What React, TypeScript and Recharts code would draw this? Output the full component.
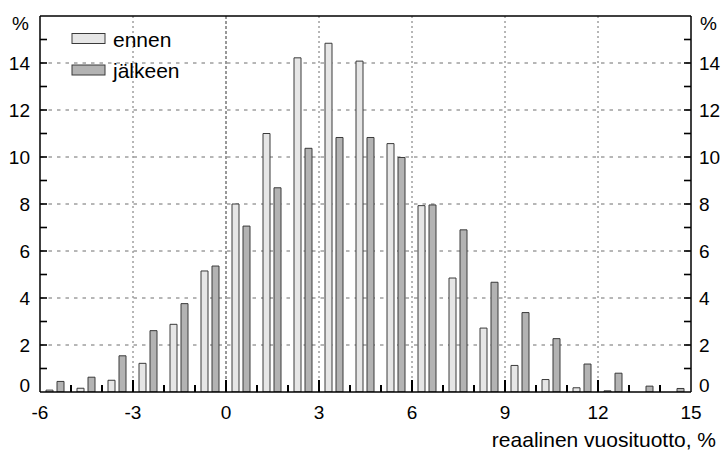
import React from 'react';
import { BarChart, Bar, XAxis, YAxis, CartesianGrid, Legend, Label } from 'recharts';

// bin centres (real annual return, %)
const categories = [-5.5, -4.5, -3.5, -2.5, -1.5, -0.5, 0.5, 1.5, 2.5, 3.5, 4.5, 5.5, 6.5, 7.5, 8.5, 9.5, 10.5, 11.5, 12.5, 13.5, 14.5];
// share of outcomes, %
const ennen = [0.08, 0.16, 0.5, 1.22, 2.88, 5.15, 8.0, 11.0, 14.22, 14.84, 14.08, 10.57, 7.93, 4.85, 2.72, 1.13, 0.53, 0.18, 0.05, 0, 0];
const jalkeen = [0.45, 0.63, 1.54, 2.61, 3.76, 5.36, 7.06, 8.69, 10.37, 10.83, 10.83, 9.98, 7.96, 6.9, 4.67, 3.38, 2.27, 1.19, 0.8, 0.25, 0.15];

const seriesNames = ['ennen', 'jälkeen'];
const xTicks = [-6, -5, -4, -3, -2, -1, 0, 1, 2, 3, 4, 5, 6, 7, 8, 9, 10, 11, 12, 13, 14, 15];
const yTicks = [0, 1, 2, 3, 4, 5, 6, 7, 8, 9, 10, 11, 12, 13, 14, 15, 16];
const hGrid = [2, 4, 6, 8, 10, 12, 14];
const vGrid = [-3, 3, 6, 9, 12];
const zeroLine = [0];
const topLine = [16];
const xTitle = 'reaalinen vuosituotto, %';
const yUnit = '%';

const data = categories.map((c, i) => ({ x: c, ennen: ennen[i], jalkeen: jalkeen[i] }));

const FONT = '"Liberation Sans", Arial, sans-serif';
const LIGHT = '#e6e6e6';
const DARK = '#b3b3b3';
const EDGE = '#3a3a3a';
const TICK_FS = 19;

const BottomTick = (props: any) => {
  const { x, y, payload } = props;
  const v = payload.value;
  const major = v % 3 === 0;
  const edge = v === -6 || v === 15;
  return (
    <g>
      {!edge && (
        <line x1={x} x2={x} y1={y} y2={y - (major ? 12 : 7)} stroke="#000" strokeWidth={2} />
      )}
      {major && (
        <text x={x} y={y + 26.5} textAnchor="middle" fontFamily={FONT} fontSize={TICK_FS} fill="#000">
          {v}
        </text>
      )}
    </g>
  );
};

const LeftTick = (props: any) => {
  const { x, y, payload } = props;
  const v = payload.value;
  const inner = v > 0 && v < 16;
  let label: any = null;
  if (v === 16) {
    label = (
      <text x={x - 11} y={y + 14} textAnchor="end" fontFamily={FONT} fontSize={TICK_FS} fill="#000">
        {yUnit}
      </text>
    );
  } else if (v % 2 === 0) {
    label = (
      <text x={x - 10} y={v === 0 ? y - 0.5 : y + 7.2} textAnchor="end" fontFamily={FONT} fontSize={TICK_FS} fill="#000">
        {v}
      </text>
    );
  }
  return (
    <g>
      {inner && <line x1={x} x2={x + 7} y1={y} y2={y} stroke="#000" strokeWidth={1.6} />}
      {label}
    </g>
  );
};

const RightTick = (props: any) => {
  const { x, y, payload } = props;
  const v = payload.value;
  const inner = v > 0 && v < 16;
  let label: any = null;
  if (v === 16) {
    label = (
      <text x={x + 9} y={y + 14} textAnchor="start" fontFamily={FONT} fontSize={TICK_FS} fill="#000">
        {yUnit}
      </text>
    );
  } else if (v % 2 === 0) {
    label = (
      <text x={x + 8} y={v === 0 ? y - 0.5 : y + 7.2} textAnchor="start" fontFamily={FONT} fontSize={TICK_FS} fill="#000">
        {v}
      </text>
    );
  }
  return (
    <g>
      {inner && <line x1={x} x2={x - 7} y1={y} y2={y} stroke="#000" strokeWidth={1.6} />}
      {label}
    </g>
  );
};

const LegendContent = (props: any) => {
  const payload = props.payload && props.payload.length ? props.payload : [
    { value: seriesNames[0] },
    { value: seriesNames[1] },
  ];
  return (
    <svg width={220} height={95} style={{ display: 'block', overflow: 'visible' }}>
      {payload.map((p: any, i: number) => (
        <g key={i}>
          <rect x={72} y={33.5 + i * 31.5} width={33} height={10} fill={i === 0 ? LIGHT : DARK} stroke={EDGE} strokeWidth={1} />
          <text x={113} y={46.5 + i * 31.5} fontFamily={FONT} fontSize={21} fill="#000">
            {p.value}
          </text>
        </g>
      ))}
    </svg>
  );
};

const TitleLabel = (props: any) => {
  const vb = props.viewBox || { x: 40, y: 392, width: 651, height: 58 };
  return (
    <text x={vb.x + vb.width + 25} y={vb.y + 55} textAnchor="end" fontFamily={FONT} fontSize={21} fill="#000">
      {xTitle}
    </text>
  );
};

export default function App() {
  return (
    <div style={{ position: 'absolute', left: 0, top: 0, width: 723, height: 450, background: '#fff' }}>
      <BarChart
        width={723}
        height={450}
        data={data}
        margin={{ top: 16, right: 0, bottom: 0, left: 0 }}
        barGap={4}
      >
        <CartesianGrid vertical={false} horizontalValues={hGrid} stroke="#6e6e6e" strokeDasharray="3.5 5" />
        <CartesianGrid horizontal={false} verticalValues={vGrid} stroke="#6e6e6e" strokeDasharray="2 3" />
        <CartesianGrid horizontal={false} verticalValues={zeroLine} stroke="#333" strokeDasharray="3 2" />
        <CartesianGrid vertical={false} horizontalValues={topLine} stroke="#000" strokeWidth={1.5} />
        <XAxis
          dataKey="x"
          type="number"
          domain={[-6, 15]}
          allowDataOverflow
          ticks={xTicks}
          interval={0}
          height={58}
          tickSize={0}
          tickMargin={0}
          tickLine={false}
          axisLine={{ stroke: '#000', strokeWidth: 1.5 }}
          tick={<BottomTick />}
        >
          <Label content={<TitleLabel />} />
        </XAxis>
        <YAxis
          type="number"
          domain={[0, 16]}
          allowDataOverflow
          ticks={yTicks}
          interval={0}
          width={40}
          tickSize={0}
          tickMargin={0}
          tickLine={false}
          axisLine={{ stroke: '#000', strokeWidth: 1.5 }}
          tick={<LeftTick />}
        />
        <YAxis
          yAxisId="right"
          orientation="right"
          type="number"
          domain={[0, 16]}
          allowDataOverflow
          ticks={yTicks}
          interval={0}
          width={32}
          tickSize={0}
          tickMargin={0}
          tickLine={false}
          axisLine={{ stroke: '#000', strokeWidth: 1.5 }}
          tick={<RightTick />}
        />
        <Legend
          layout="vertical"
          align="center"
          verticalAlign="middle"
          wrapperStyle={{ left: 0, top: 0, width: 220, height: 95 }}
          content={<LegendContent />}
        />
        <Bar
          dataKey="ennen"
          name={seriesNames[0]}
          fill={LIGHT}
          stroke={EDGE}
          strokeWidth={1}
          barSize={7}
          isAnimationActive={false}
        />
        <Bar
          dataKey="jalkeen"
          name={seriesNames[1]}
          fill={DARK}
          stroke={EDGE}
          strokeWidth={1}
          barSize={7}
          isAnimationActive={false}
        />
      </BarChart>
    </div>
  );
}
